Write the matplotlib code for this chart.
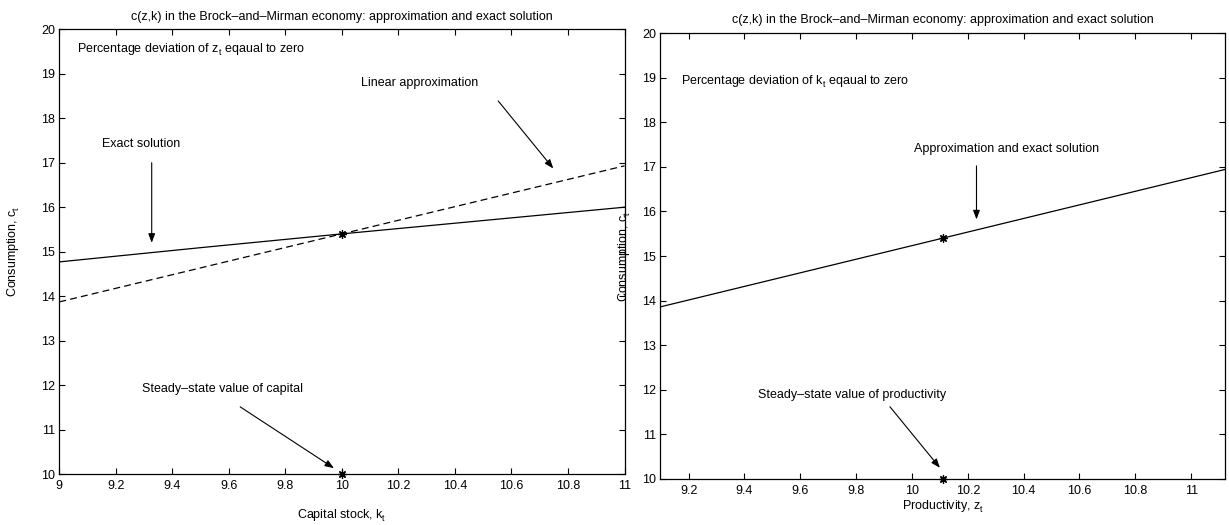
import matplotlib
matplotlib.use("Agg")
import matplotlib.pyplot as plt

try:
    import matplotlib._mathtext as _mt
    _mt.FontConstantsBase.sub1 = 0.45
    _mt.FontConstantsBase.sub2 = 0.6
except Exception:
    pass

# ---------------- data ----------------
# Left panel: consumption as a function of capital (z at steady state)
k_exact = [9.0, 9.5, 10.0, 10.5, 11.0]
c_exact_k = [14.77, 15.09, 15.40, 15.70, 16.00]
k_linear = [9.0, 11.0]
c_linear_k = [13.87, 16.93]
k_ss = 10.0
c_ss = 15.40

# Right panel: consumption as a function of productivity (k at steady state)
z_vals = [9.099, 10.11, 11.121]
c_z = [13.86, 15.40, 16.94]
z_ss = 10.11

y_floor = 10.0
x_ticks_left = [9, 9.2, 9.4, 9.6, 9.8, 10, 10.2, 10.4, 10.6, 10.8, 11]
x_ticks_right = [9.2, 9.4, 9.6, 9.8, 10, 10.2, 10.4, 10.6, 10.8, 11]
y_ticks = [10, 11, 12, 13, 14, 15, 16, 17, 18, 19, 20]

title_txt = "c(z,k) in the Brock\u2013and\u2013Mirman economy: approximation and exact solution"

# ---------------- style ----------------
plt.rcParams["font.family"] = ["Liberation Sans", "DejaVu Sans"]
plt.rcParams["mathtext.fontset"] = "custom"
plt.rcParams["mathtext.rm"] = "Liberation Sans"
plt.rcParams["mathtext.it"] = "Liberation Sans"
plt.rcParams["mathtext.bf"] = "Liberation Sans:bold"
plt.rcParams["lines.scale_dashes"] = False
FS = 9

fig = plt.figure(figsize=(12.29, 5.25), dpi=100)
axL = fig.add_axes([0.04825, 0.09714, 0.4599, 0.8470])
axR = fig.add_axes([0.5374, 0.08762, 0.4593, 0.8495])

ast = (8, 2, 0)
arrow_kw = dict(arrowstyle="-|>,head_length=0.45,head_width=0.17", lw=0.8,
                color="k", mutation_scale=12, shrinkA=0, shrinkB=0)


def style_axes(ax, xlim, xticks):
    ax.set_xlim(*xlim)
    ax.set_ylim(10, 20)
    ax.set_xticks(xticks)
    ax.set_xticklabels([f"{t:g}" for t in xticks])
    ax.set_yticks(y_ticks)
    ax.tick_params(direction="in", length=4, width=0.8, top=True, right=True,
                   labelsize=FS)
    ax.tick_params(axis="x", pad=4)
    ax.tick_params(axis="y", pad=3)
    for s in ax.spines.values():
        s.set_linewidth(0.9)


# ---------- left panel ----------
axL.plot(k_exact, c_exact_k, color="k", lw=0.9)
axL.plot(k_linear, c_linear_k, color="k", lw=0.9, linestyle=(0, (5.0, 3.0)))
axL.plot([k_ss], [c_ss], linestyle="none", marker=ast, ms=6, mew=0.9, color="k")
axL.plot([k_ss], [y_floor], linestyle="none", marker=ast, ms=6, mew=0.9,
         color="k", clip_on=False)
style_axes(axL, (9, 11), x_ticks_left)
axL.set_title(title_txt, fontsize=FS, pad=7)
axL.set_xlabel(r"Capital stock, $k_t$", fontsize=FS, labelpad=12)
axL.set_ylabel(r"Consumption, $c_t$", fontsize=FS, labelpad=14)

axL.text(9.064, 19.53, r"Percentage deviation of $z_t$ eqaual to zero",
         fontsize=FS, ha="left", va="center")
axL.text(9.15, 17.42, "Exact solution", fontsize=FS, ha="left", va="center")
axL.annotate("", xy=(9.327, 15.2), xytext=(9.327, 17.0), arrowprops=arrow_kw)
axL.text(10.068, 18.80, "Linear approximation", fontsize=FS, ha="left",
         va="center")
axL.annotate("", xy=(10.748, 16.87), xytext=(10.553, 18.39),
             arrowprops=arrow_kw)
axL.text(9.294, 11.91, "Steady\u2013state value of capital", fontsize=FS,
         ha="left", va="center")
axL.annotate("", xy=(9.972, 10.13), xytext=(9.64, 11.51), arrowprops=arrow_kw)

# ---------- right panel ----------
axR.plot(z_vals, c_z, color="k", lw=0.9)
axR.plot([z_ss], [c_ss], linestyle="none", marker=ast, ms=6, mew=0.9, color="k")
axR.plot([z_ss], [y_floor], linestyle="none", marker=ast, ms=6, mew=0.9,
         color="k", clip_on=False)
style_axes(axR, (9.099, 11.121), x_ticks_right)
axR.set_title(title_txt, fontsize=FS, pad=7)
axR.set_xlabel(r"Productivity, $z_t$", fontsize=FS, labelpad=2)
axR.set_ylabel(r"Consumption, $c_t$", fontsize=FS, labelpad=7)

axR.text(9.174, 18.91, r"Percentage deviation of $k_t$ eqaual to zero",
         fontsize=FS, ha="left", va="center")
axR.text(10.008, 17.40, "Approximation and exact solution", fontsize=FS,
         ha="left", va="center")
axR.annotate("", xy=(10.231, 15.82), xytext=(10.231, 17.02),
             arrowprops=arrow_kw)
axR.text(9.45, 11.88, "Steady\u2013state value of productivity", fontsize=FS,
         ha="left", va="center")
axR.annotate("", xy=(10.10, 10.25), xytext=(9.921, 11.62), arrowprops=arrow_kw)

fig.savefig("out.png", dpi=100)
